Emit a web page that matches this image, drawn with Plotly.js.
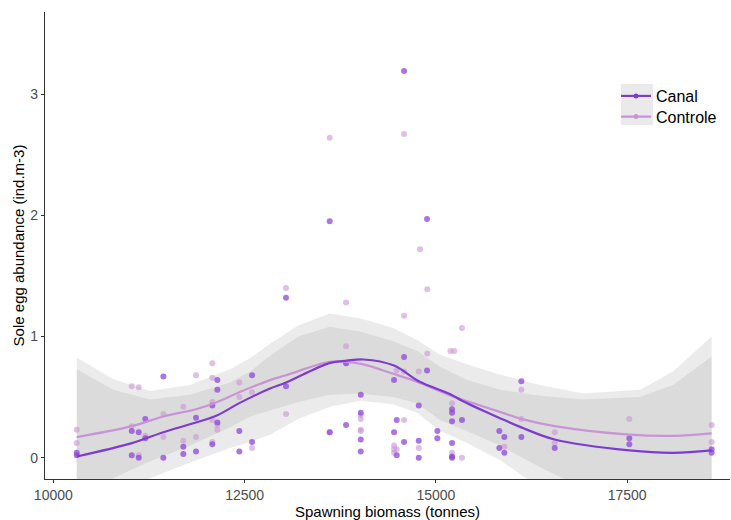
<!DOCTYPE html>
<html>
<head>
<meta charset="utf-8">
<script src="https://cdn.plot.ly/plotly-3.0.1.min.js"></script>
<style>html,body{margin:0;padding:0;background:#fff;overflow:hidden}#chart{width:731px;height:520px}</style>
</head>
<body>
<div id="chart"></div>
<script>
// ---- Observed points: Canal ----
const canalX = [10306,10306, 11025,11025, 11116,11116, 11202,11202, 11438,11438, 11699,11699, 11865,11865,
  12078,12078, 12144,12144,12144, 12431,12431, 12597,12597, 13041,13041, 13612,13612, 13826,13826,
  14018,14018,14018,14018, 14453,14453, 14488,14488, 14584,14584,14584, 14776,14776,14776, 14884,14884,
  15019,15019, 15211,15211,15211,15211,15211,15211, 15341, 15829,15829, 15895,15895, 16117,16117, 16553,
  17528,17528, 18604,18604];
const canalY = [0.04,0.02, 0.22,0.02, 0.21,0.00, 0.32,0.16, 0.67,0.00, 0.09,0.03, 0.33,0.05,
  0.43,0.11, 0.64,0.56,0.29, 0.22,0.05, 0.68,0.13, 1.32,0.59, 1.95,0.21, 0.78,0.27,
  0.52,0.37,0.15,0.05, 0.64,0.21, 0.31,0.02, 3.19,0.83,0.13, 0.43,0.14,0.00, 1.97,0.72,
  0.22,0.16, 0.40,0.37,0.30,0.12,0.00,0.01, 0.31, 0.22,0.08, 0.17,0.04, 0.63,0.17, 0.08,
  0.16,0.11, 0.07,0.04];

// ---- Observed points: Controle ----
const controleX = [10306,10306, 11025,11025, 11116,11116, 11202, 11438,11438, 11699,11699, 11865,11865,
  12078,12078,12078,12078,12078, 12144,12144, 12431,12431, 12597,12597, 13041,13041, 13612,13612,
  13826,13826,13826, 14018,14018,14018,14018, 14453,14453,14453, 14488,14488, 14584,14584,14584,14584,
  14793,14776,14776, 14888,14888, 15190,15240,15211,15211, 15341,15341, 15895, 16117,16117, 16553,16553,
  17528, 18604,18604];
const controleY = [0.23,0.12, 0.59,0.26, 0.58,0.02, 0.18, 0.36,0.17, 0.42,0.14, 0.68,0.17,
  0.78,0.66,0.46,0.31,0.13, 0.27,0.23, 0.62,0.50, 0.54,0.08, 1.40,0.36, 2.64,0.21,
  1.28,0.92,0.78, 0.35,0.32,0.23,0.22, 0.10,0.07,0.04, 0.72,0.07, 2.67,1.17,0.71,0.31,
  1.72,0.71,0.08, 1.39,0.86, 0.88,0.88,0.45,0.04, 1.07,0.00, 0.09, 0.56,0.32, 0.21,0.12,
  0.32, 0.27,0.13];

// ---- Smoothed (loess) curves ----
const fitX = [10306,11025,11438,11865,12144,12431,12832,13041,13607,13835,14052,14453,14776,15202,15341,15825,16117,16553,17528,18103,18604];
const canalFit = [0.01,0.12,0.21,0.29,0.35,0.45,0.57,0.62,0.78,0.80,0.81,0.76,0.63,0.52,0.47,0.33,0.25,0.15,0.06,0.04,0.06];
const controleFit = [0.17,0.26,0.34,0.40,0.46,0.54,0.64,0.68,0.79,0.79,0.77,0.69,0.62,0.51,0.48,0.38,0.32,0.26,0.19,0.18,0.20];

// ---- Confidence bands (outer / inner envelopes) ----
const bandX = [10306,10780,11264,11787,12309,12571,12832,13200,13617,14009,14440,14754,15053,15406,15838,16361,16924,17669,18100,18604];
const bandAUpper = [0.825,0.65,0.55,0.60,0.73,0.82,0.94,1.09,1.19,1.15,1.07,0.97,0.85,0.77,0.685,0.60,0.53,0.56,0.71,1.00];
const bandALower = [-0.90,-0.45,-0.17,-0.04,0.08,0.13,0.19,0.32,0.42,0.47,0.44,0.37,0.22,0.12,-0.02,-0.25,-0.45,-0.60,-0.70,-0.90];
const bandBUpper = [0.73,0.56,0.48,0.52,0.62,0.71,0.84,1.00,1.08,1.04,0.96,0.88,0.75,0.64,0.56,0.51,0.48,0.50,0.60,0.835];
const bandBLower = [-0.60,-0.17,-0.03,0.10,0.25,0.34,0.39,0.46,0.52,0.53,0.50,0.45,0.31,0.22,0.10,-0.08,-0.25,-0.40,-0.45,-0.50];

const xTicks = [10000,12500,15000,17500];
const yTicks = [0,1,2,3];
const seriesNames = ['Canal','Controle'];

const canalColor = '#7E3BD0';
const controleColor = '#C994D6';
const bandFill = 'rgba(153,153,153,0.2)';

function band(lower, upper){
  return [
    {x: bandX, y: lower, mode:'lines', line:{width:0, color:'rgba(0,0,0,0)'}, hoverinfo:'skip', showlegend:false},
    {x: bandX, y: upper, mode:'lines', line:{width:0, color:'rgba(0,0,0,0)'}, fill:'tonexty', fillcolor: bandFill, hoverinfo:'skip', showlegend:false}
  ];
}

const traces = [].concat(
  band(bandALower, bandAUpper),
  band(bandBLower, bandBUpper),
  [
    {x: controleX, y: controleY, mode:'markers', marker:{color: controleColor, size:6, opacity:0.6}, showlegend:false, cliponaxis:true},
    {x: canalX, y: canalY, mode:'markers', marker:{color: '#8E47D8', size:6, opacity:0.75}, showlegend:false, cliponaxis:true},
    {x: fitX, y: controleFit, mode:'lines', line:{color: controleColor, width:2.2, shape:'spline', smoothing:1}, showlegend:false},
    {x: fitX, y: canalFit, mode:'lines', line:{color: canalColor, width:2.2, shape:'spline', smoothing:1}, showlegend:false},
    {x:[null], y:[null], mode:'lines+markers', name: seriesNames[0], line:{color: canalColor, width:2.2}, marker:{color: canalColor, size:5}, legend:'legend'},
    {x:[null], y:[null], mode:'lines+markers', name: seriesNames[1], line:{color: controleColor, width:2.2}, marker:{color: controleColor, size:5}, legend:'legend2'}
  ]
);

const layout = {
  width: 731, height: 520,
  margin: {l:45, r:1, t:12, b:41},
  paper_bgcolor:'#ffffff', plot_bgcolor:'#ffffff',
  font: {family: 'Liberation Sans, Arial, sans-serif', color:'#000'},
  xaxis: {
    range:[9891, 18844], tickvals: xTicks, ticktext: xTicks.map(String),
    showgrid:false, zeroline:false, showline:true, linecolor:'#333333', linewidth:1.1,
    ticks:'outside', ticklen:3, tickcolor:'#333333', tickwidth:1,
    tickfont:{size:14, color:'#4d4d4d'},
    title:{text:'Spawning biomass (tonnes)', font:{size:15, color:'#000'}, standoff:3}
  },
  yaxis: {
    range:[-0.176, 3.677], tickvals: yTicks, ticktext: yTicks.map(String),
    showgrid:false, zeroline:false, showline:true, linecolor:'#333333', linewidth:1.1,
    ticks:'outside', ticklen:3, tickcolor:'#333333', tickwidth:1,
    tickfont:{size:14, color:'#4d4d4d'},
    title:{text:'Sole egg abundance (ind.m-3)', font:{size:15, color:'#000'}, standoff:2}
  },
  legend: {x:0.8336, y:0.8565, xanchor:'left', yanchor:'top', bgcolor:'rgba(0,0,0,0)', borderwidth:0, font:{size:16, color:'#000'}},
  legend2: {x:0.8336, y:0.8122, xanchor:'left', yanchor:'top', bgcolor:'rgba(0,0,0,0)', borderwidth:0, font:{size:16, color:'#000'}},
  shapes: [
    {type:'rect', xref:'paper', yref:'paper', x0:0.8409, x1:0.8876, y0:0.7580, y1:0.8458, fillcolor:'#EAEAEA', line:{width:0}, layer:'above'}
  ]
};

Plotly.newPlot('chart', traces, layout, {displayModeBar:false, staticPlot:true});
</script>
</body>
</html>
